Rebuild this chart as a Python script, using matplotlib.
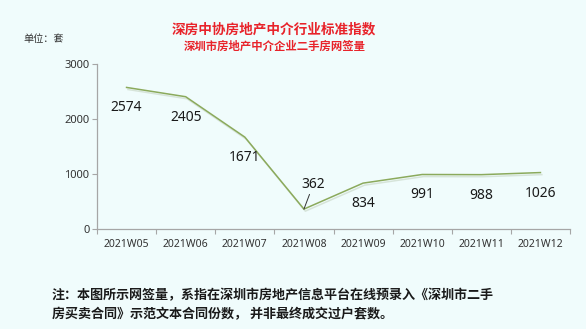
import matplotlib
matplotlib.use("Agg")
import matplotlib.pyplot as plt
import matplotlib.patheffects as pe
from matplotlib.ticker import FixedLocator, NullFormatter

plt.rcParams['font.family'] = ['Noto Sans', 'Noto Sans CJK SC', 'DejaVu Sans']

categories = ["2021W05", "2021W06", "2021W07", "2021W08", "2021W09", "2021W10", "2021W11", "2021W12"]
values = [2574, 2405, 1671, 362, 834, 991, 988, 1026]
yticks = [0, 1000, 2000, 3000]

title = "深房中协房地产中介行业标准指数"
subtitle = "深圳市房地产中介企业二手房网签量"
unit = "单位：套"
note1 = "注：本图所示网签量，系指在深圳市房地产信息平台在线预录入《深圳市二手"
note2 = "房买卖合同》示范文本合同份数， 并非最终成交过户套数。"

bg = "#F0FCFC"
W, H = 586, 329
fig = plt.figure(figsize=(W / 100, H / 100), dpi=100, facecolor=bg)
ax = fig.add_axes([97 / W, 1 - 229 / H, (570 - 97) / W, (229 - 64) / H], facecolor=bg)

x = list(range(len(categories)))
ax.plot(x, values, color="#8BAA5C", lw=1.1, solid_joinstyle="round",
        path_effects=[pe.SimpleLineShadow(offset=(1, -1.5), shadow_color="#b8c8b0", alpha=0.45),
                      pe.Normal()])

ax.set_xlim(-0.5, len(categories) - 0.5)
ax.set_ylim(0, 3000)
ax.set_yticks(yticks)
ax.set_xticks(x)
ax.set_xticklabels(categories)
ax.xaxis.set_minor_locator(FixedLocator([i - 0.5 for i in range(len(categories) + 1)]))
ax.xaxis.set_minor_formatter(NullFormatter())
ax.tick_params(axis="x", which="major", length=0, pad=7, labelsize=7.5, labelcolor="#333333")
ax.tick_params(axis="x", which="minor", length=3.5, color="#a6a6a6", width=0.8)
ax.tick_params(axis="y", length=3.5, color="#a6a6a6", width=0.8, pad=2, labelsize=8, labelcolor="#333333")
for s in ["top", "right"]:
    ax.spines[s].set_visible(False)
for s in ["left", "bottom"]:
    ax.spines[s].set_color("#a6a6a6")
    ax.spines[s].set_linewidth(0.9)

for i, v in enumerate(values):
    if i == 3:
        ax.annotate(str(v), xy=(i, v), xytext=(9, 25), textcoords="offset pixels",
                    ha="center", va="center", fontsize=10, color="#1a1a1a",
                    arrowprops=dict(arrowstyle="-", color="#333333", lw=0.7, shrinkA=0, shrinkB=0,
                                    relpos=(0.4, 0.0)))
    else:
        ax.annotate(str(v), xy=(i, v), xytext=(0, -20.5), textcoords="offset pixels",
                    ha="center", va="center", fontsize=10, color="#1a1a1a")

cjk = ['Noto Sans CJK SC', 'DejaVu Sans']
fig.text(274 / W, 1 - 29 / H, title, ha="center", va="center", fontsize=9.8,
         fontweight="bold", color="#E8232A", family=cjk)
fig.text(275 / W, 1 - 46 / H, subtitle, ha="center", va="center", fontsize=8.2,
         fontweight="bold", color="#E8232A", family=cjk)
fig.text(23 / W, 1 - 39 / H, unit, ha="left", va="center", fontsize=7.3,
         color="#333333", family=cjk)
fig.text(52 / W, 1 - 295 / H, note1, ha="left", va="center", fontsize=9.4,
         fontweight="bold", color="#1a1a1a", family=cjk)
fig.text(52 / W, 1 - 314 / H, note2, ha="left", va="center", fontsize=9.4,
         fontweight="bold", color="#1a1a1a", family=cjk)

fig.savefig("out.png", dpi=100, facecolor=bg)
